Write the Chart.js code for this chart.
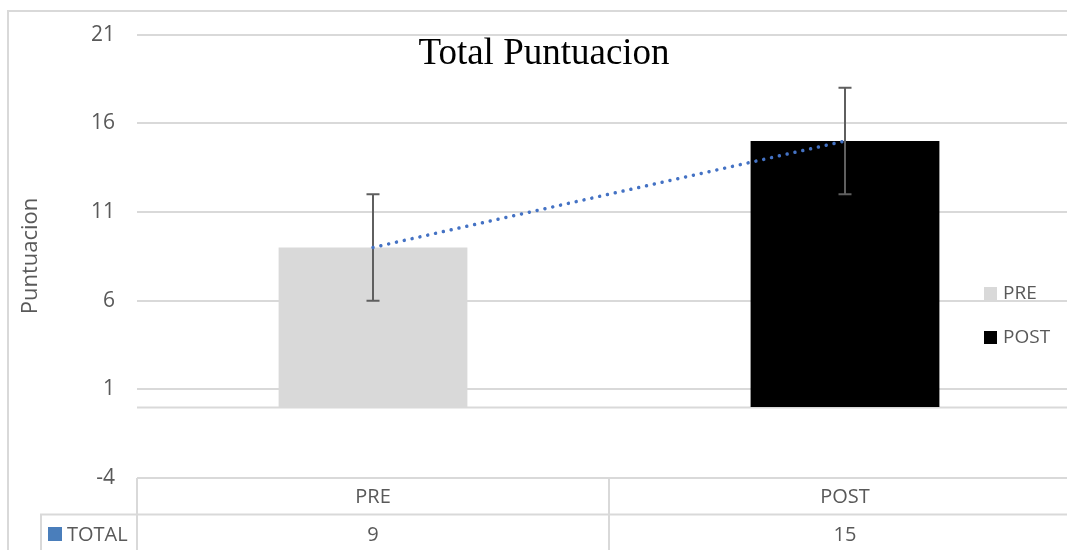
<!DOCTYPE html>
<html>
<head>
<meta charset="utf-8">
<script src="https://cdn.jsdelivr.net/npm/chart.js@4"></script>
<style>
  html, body { margin: 0; padding: 0; background: #fff; overflow: hidden; }
  #wrap { width: 1082px; height: 550px; }
</style>
</head>
<body>
<div id="wrap"><canvas id="puntChart" width="1082" height="550"></canvas></div>
<script>
// data
const categories = ["PRE", "POST"];
const totals = [9, 15];
const errMinus = [3, 3];
const errPlus = [3, 3];
const barColors = ["#d9d9d9", "#000000"];
const seriesName = "TOTAL";
const yMin = -4, yMax = 21, yStep = 5;

const gridColor = "#d9d9d9";
const textColor = "#595959";
const sansFont = "'Open Sans', sans-serif";

// outer frame + zero line
const framePlugin = {
  id: "frame",
  beforeDraw(chart) {
    const ctx = chart.ctx;
    ctx.save();
    ctx.strokeStyle = gridColor;
    ctx.lineWidth = 2;
    ctx.strokeRect(8, 11, chart.width + 20, chart.height + 20);
    ctx.restore();
  },
  beforeDatasetsDraw(chart) {
    const ctx = chart.ctx, a = chart.chartArea;
    const y0 = Math.round(chart.scales.y.getPixelForValue(0)) + 0.5;
    ctx.save();
    ctx.strokeStyle = gridColor;
    ctx.lineWidth = 2;
    ctx.beginPath();
    ctx.moveTo(a.left, y0);
    ctx.lineTo(a.right, y0);
    ctx.stroke();
    ctx.restore();
  }
};

// error bars, drawn right after the bars (under the dotted line)
const errorBarPlugin = {
  id: "errorBars",
  afterDatasetDraw(chart, args) {
    if (args.index !== 0) return;
    const ctx = chart.ctx, xs = chart.scales.x, ys = chart.scales.y;
    ctx.save();
    ctx.strokeStyle = "#5f5f5f";
    ctx.lineWidth = 2;
    totals.forEach((v, i) => {
      const x = Math.round(xs.getPixelForValue(i));
      const top = ys.getPixelForValue(v + errPlus[i]);
      const bot = ys.getPixelForValue(v - errMinus[i]);
      ctx.beginPath();
      ctx.moveTo(x, top); ctx.lineTo(x, bot);
      ctx.moveTo(x - 6.5, top); ctx.lineTo(x + 6.5, top);
      ctx.moveTo(x - 6.5, bot); ctx.lineTo(x + 6.5, bot);
      ctx.stroke();
    });
    ctx.restore();
  }
};

// title, axis title, legend and data table
const textPlugin = {
  id: "texts",
  afterDraw(chart) {
    const ctx = chart.ctx, xs = chart.scales.x, a = chart.chartArea;
    ctx.save();

    ctx.fillStyle = "#000";
    ctx.font = "37px 'Liberation Serif', serif";
    ctx.textAlign = "center";
    ctx.textBaseline = "alphabetic";
    ctx.fillText("Total Puntuacion", 544, 64);

    ctx.save();
    ctx.translate(37, 256);
    ctx.rotate(-Math.PI / 2);
    ctx.fillStyle = textColor;
    ctx.font = "22px " + sansFont;
    ctx.fillText("Puntuacion", 0, 0);
    ctx.restore();

    // legend
    ctx.font = "19px " + sansFont;
    ctx.textAlign = "left";
    const legY = [287, 331];
    categories.forEach((c, i) => {
      ctx.fillStyle = barColors[i];
      ctx.fillRect(984, legY[i], 13, 13);
      ctx.fillStyle = textColor;
      ctx.fillText(c, 1003, legY[i] + 12);
    });

    // data table
    const rowTop = a.bottom, rowMid = a.bottom + 36.5;
    const half = (xs.getPixelForValue(1) - xs.getPixelForValue(0)) / 2;
    ctx.strokeStyle = gridColor;
    ctx.lineWidth = 2;
    ctx.beginPath();
    ctx.moveTo(40, rowMid); ctx.lineTo(chart.width, rowMid);
    ctx.moveTo(a.left, rowTop); ctx.lineTo(a.left, chart.height);
    ctx.moveTo(41, rowMid); ctx.lineTo(41, chart.height);
    categories.forEach((c, i) => {
      const xr = xs.getPixelForValue(i) + half;
      ctx.moveTo(xr, rowTop); ctx.lineTo(xr, chart.height);
    });
    ctx.stroke();

    ctx.font = "20px " + sansFont;
    ctx.fillStyle = textColor;
    ctx.textAlign = "center";
    categories.forEach((c, i) => {
      const x = xs.getPixelForValue(i);
      ctx.fillText(c, x, rowTop + 25);
      ctx.fillText(String(totals[i]), x, rowMid + 26);
    });
    ctx.fillStyle = "#4a7ebb";
    ctx.fillRect(48, 527, 14, 14);
    ctx.fillStyle = textColor;
    ctx.textAlign = "left";
    ctx.fillText(seriesName, 67, rowMid + 26);
    ctx.restore();
  }
};

const ctx = document.getElementById("puntChart").getContext("2d");
new Chart(ctx, {
  type: "bar",
  data: {
    labels: categories,
    datasets: [
      {
        type: "bar",
        label: seriesName,
        data: totals,
        backgroundColor: barColors,
        barPercentage: 0.4,
        categoryPercentage: 1,
        order: 1
      },
      {
        type: "line",
        label: "trend",
        data: totals,
        borderColor: "#4472c4",
        borderWidth: 3.5,
        borderDash: [0.01, 8],
        borderCapStyle: "round",
        pointRadius: 0,
        tension: 0,
        fill: false,
        order: 0
      }
    ]
  },
  options: {
    responsive: false,
    animation: false,
    layout: { padding: { top: 34, bottom: 72, left: 0, right: 1 } },
    plugins: {
      legend: { display: false },
      title: { display: false },
      tooltip: { enabled: false }
    },
    scales: {
      x: {
        display: false,
        offset: true
      },
      y: {
        min: yMin,
        max: yMax,
        afterFit(scale) { scale.width = 137; },
        ticks: {
          stepSize: yStep,
          color: textColor,
          padding: 22,
          font: { family: sansFont, size: 21 }
        },
        grid: { color: gridColor, lineWidth: 2, drawTicks: false },
        border: { display: false }
      }
    }
  },
  plugins: [framePlugin, errorBarPlugin, textPlugin]
});
</script>
</body>
</html>
